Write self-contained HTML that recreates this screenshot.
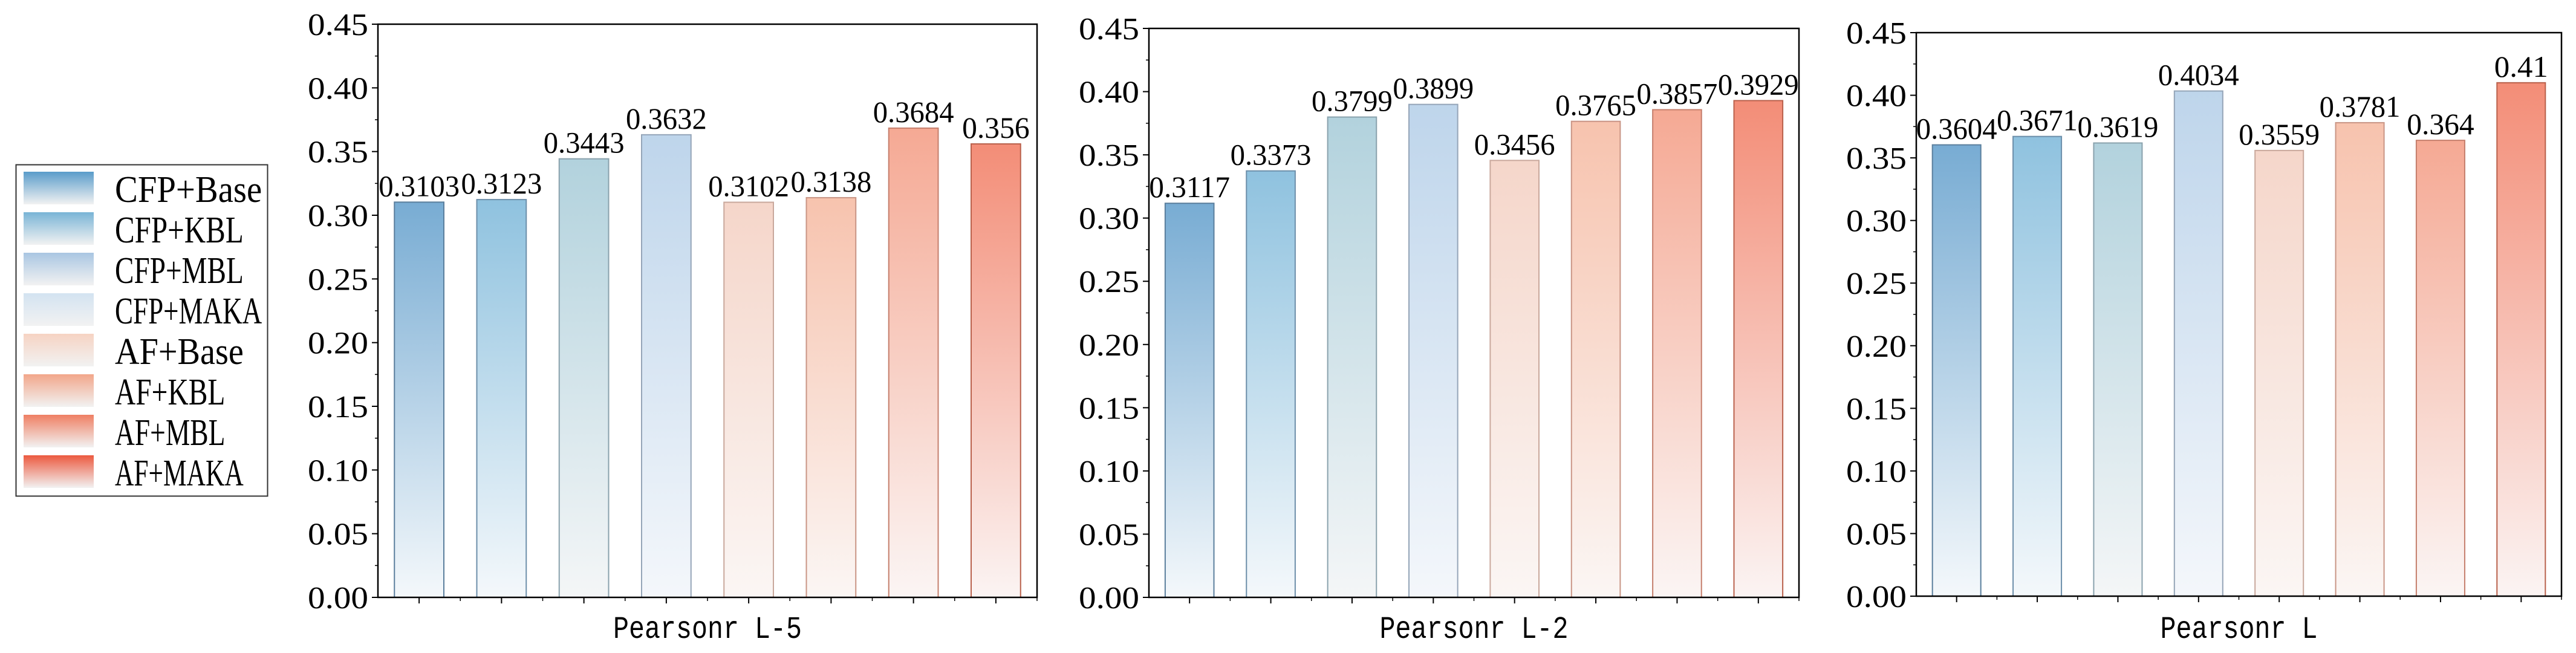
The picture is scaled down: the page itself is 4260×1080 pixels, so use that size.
<!DOCTYPE html>
<html><head><meta charset="utf-8">
<style>
html,body{margin:0;padding:0;background:#fff;}
svg{display:block;}
text{font-family:"Liberation Serif","Noto Serif CJK SC",serif;fill:#000;}
.mono{font-family:"Liberation Mono","Noto Sans CJK SC",monospace;}
</style></head>
<body>
<svg id="fig" width="4260" height="1080" viewBox="0 0 4260 1080" xmlns="http://www.w3.org/2000/svg">
<defs id="defs"></defs>
<g id="legend"></g>
<g id="charts"></g>
</svg>
<script>
const series = ["CFP+Base","CFP+KBL","CFP+MBL","CFP+MAKA","AF+Base","AF+KBL","AF+MBL","AF+MAKA"];
const panelTitles = ["Pearsonr L-5","Pearsonr L-2","Pearsonr L"];
const valuesL5 = [0.3103,0.3123,0.3443,0.3632,0.3102,0.3138,0.3684,0.356];
const valuesL2 = [0.3117,0.3373,0.3799,0.3899,0.3456,0.3765,0.3857,0.3929];
const valuesL  = [0.3604,0.3671,0.3619,0.4034,0.3559,0.3781,0.364,0.41];
const labelsL5 = ["0.3103","0.3123","0.3443","0.3632","0.3102","0.3138","0.3684","0.356"];
const labelsL2 = ["0.3117","0.3373","0.3799","0.3899","0.3456","0.3765","0.3857","0.3929"];
const labelsL  = ["0.3604","0.3671","0.3619","0.4034","0.3559","0.3781","0.364","0.41"];
const yTicks = [0,0.05,0.10,0.15,0.20,0.25,0.30,0.35,0.40,0.45];
const yTickLabels = ["0.00","0.05","0.10","0.15","0.20","0.25","0.30","0.35","0.40","0.45"];

const topCol = ["#78acd3","#8fc2df","#b2d2dd","#bed5eb","#f5d6ca","#f7c3ae","#f5a994","#f38d77"];
const botCol = ["#f4f8fb","#f4f8fb","#f4f6f7","#f4f7fb","#fbf6f4","#fbf6f4","#fbf5f4","#fbf4f3"];
const edgeCol = ["#5b7f9d","#6d8faa","#8aa2ad","#95a5b8","#c9a89c","#c99585","#c57f6d","#b9614c"];
const legTop = ["#5a9cca","#79b4d6","#a9c6e2","#d3e3f1","#f6d3c3","#f2a68a","#ef7f63","#ec5a40"];

const NS="http://www.w3.org/2000/svg";
const defs=document.getElementById('defs');
function mk(tag,attrs,parent){const e=document.createElementNS(NS,tag);for(const k in attrs)e.setAttribute(k,attrs[k]);parent.appendChild(e);return e;}

series.forEach((s,i)=>{
  const g=mk('linearGradient',{id:'g'+i,x1:0,y1:0,x2:0,y2:1},defs);
  mk('stop',{offset:'0','stop-color':topCol[i]},g);
  mk('stop',{offset:'1','stop-color':botCol[i]},g);
  const lg=mk('linearGradient',{id:'lg'+i,x1:0,y1:0,x2:0,y2:1},defs);
  mk('stop',{offset:'0','stop-color':legTop[i]},lg);
  mk('stop',{offset:'1','stop-color':'#f2f2f2'},lg);
});

const leg=document.getElementById('legend');
const box=mk('rect',{x:26.5,y:272.5,width:416,height:548,fill:'#fff',stroke:'#333','stroke-width':2},leg);


series.forEach((s,i)=>{
  const y0=284+i*67;
  const p=mk('rect',{x:39,y:y0,width:116,height:54,fill:'url(#lg'+i+')'},leg);
  
  
  const t=mk('text',{x:190,y:y0+50,'font-size':62,textLength:30.4*s.length,lengthAdjust:'spacingAndGlyphs'},leg);
  t.textContent=s;
  
  
});

const panels=[
  {x0:625,x1:1715,top:40,bot:988,vals:valuesL5,labs:labelsL5,title:panelTitles[0],name:'l5'},
  {x0:1900,x1:2975,top:47,bot:988,vals:valuesL2,labs:labelsL2,title:panelTitles[1],name:'l2'},
  {x0:3169,x1:4236,top:54,bot:986,vals:valuesL,labs:labelsL,title:panelTitles[2],name:'l'}
];
const chartsG=document.getElementById('charts');
panels.forEach(P=>{
  const g=mk('g',{},chartsG);
  
  
  const yScale=v=>P.bot-(v/0.45)*(P.bot-P.top);
  const n=P.vals.length, slot=(P.x1-P.x0)/n;
  const xC=i=>P.x0+slot*(i+0.5);
  P.vals.forEach((v,i)=>{
    const bw=slot*0.6, y=yScale(v);
    const r=mk('rect',{x:xC(i)-bw/2,y:y,width:bw,height:P.bot-y,fill:'url(#g'+i+')',stroke:edgeCol[i],'stroke-width':2},g);
    
    
    const lab=P.labs[i];
    const t=mk('text',{x:xC(i),y:y-10,'font-size':50,'text-anchor':'middle',textLength:22.3*lab.length,lengthAdjust:'spacingAndGlyphs'},g);
    t.textContent=lab;
    
    
  });
  const fr=mk('rect',{x:P.x0,y:P.top,width:P.x1-P.x0,height:P.bot-P.top,fill:'none',stroke:'#000','stroke-width':2.5},g);
  
  
  yTicks.forEach((v,k)=>{
    const y=yScale(v);
    mk('line',{x1:P.x0-10,x2:P.x0,y1:y,y2:y,stroke:'#000','stroke-width':2},g);
    if(k<yTicks.length-1){const ym=yScale(v+0.025);mk('line',{x1:P.x0-5,x2:P.x0,y1:ym,y2:ym,stroke:'#000','stroke-width':1.5},g);}
    const t=mk('text',{x:P.x0-16,y:y+18,'font-size':52,'text-anchor':'end',textLength:100,lengthAdjust:'spacingAndGlyphs'},g);
    t.textContent=yTickLabels[k];
    
    
  });
  for(let i=0;i<n;i++){
    mk('line',{x1:xC(i),x2:xC(i),y1:P.bot,y2:P.bot+10,stroke:'#000','stroke-width':2},g);
    mk('line',{x1:P.x0+slot*(i+1),x2:P.x0+slot*(i+1),y1:P.bot,y2:P.bot+6,stroke:'#000','stroke-width':1.5},g);
  }
  const xt=mk('text',{x:(P.x0+P.x1)/2,y:1055,'font-size':52,'text-anchor':'middle','class':'mono',textLength:26*P.title.length,lengthAdjust:'spacingAndGlyphs'},g);
  xt.textContent=P.title;
  
  
});
</script>
</body></html>
